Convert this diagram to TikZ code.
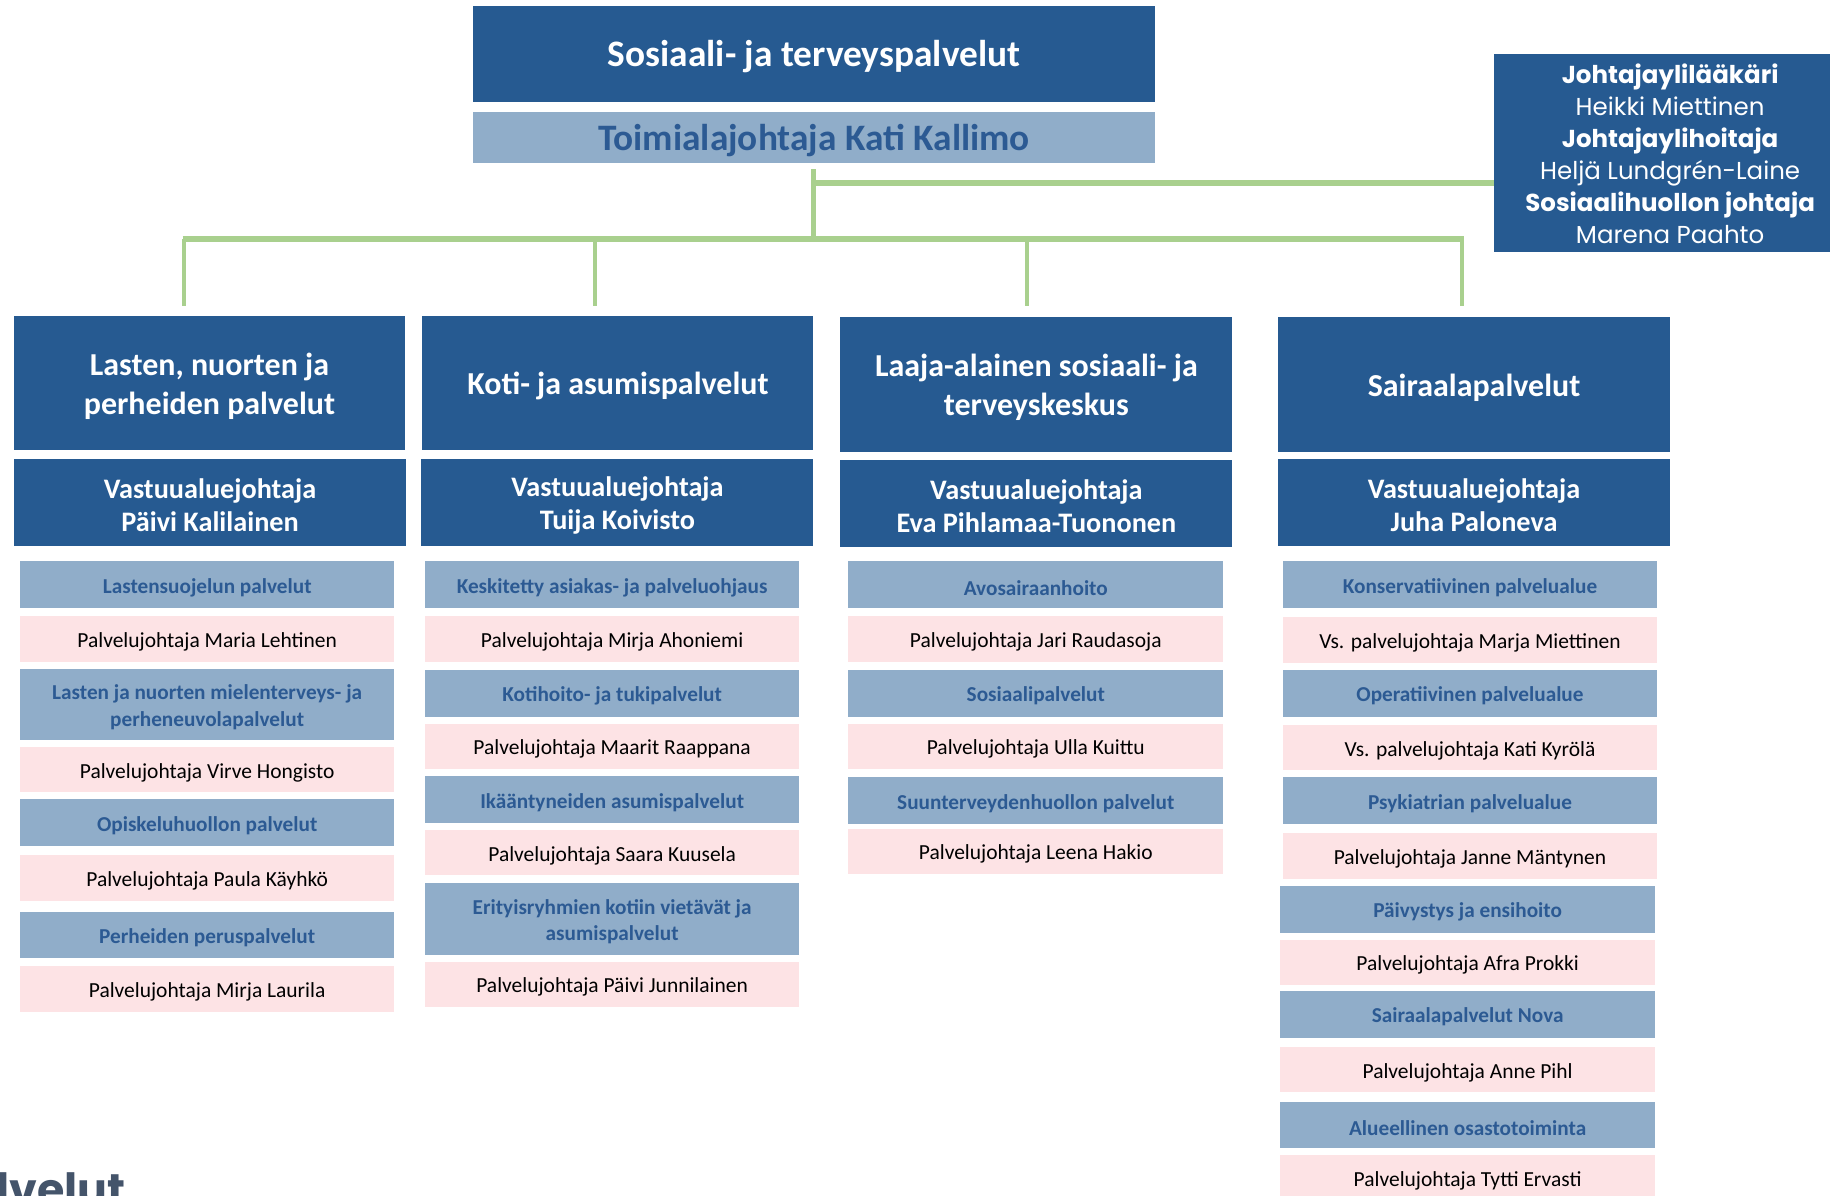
\documentclass[tikz,border=0pt]{standalone}
\usepackage{fontspec}
\setmainfont{Carlito}
\newfontfamily\popfont{Poppins}
\definecolor{dblue}{RGB}{38,90,145}
\definecolor{lblue}{RGB}{144,173,201}
\definecolor{lbtext}{RGB}{44,90,147}
\definecolor{pinkbg}{RGB}{253,227,229}
\definecolor{lgreen}{RGB}{169,208,142}
\definecolor{graytxt}{RGB}{68,84,106}
\newcommand\bx[7]{\node[#6, minimum width={(#4-#2)*1pt}, minimum height={(#5-#3)*1pt}] (#1) at ({(#2+#4)/2},{(#3+#5)/2}) {};
  \node[#6, fill=none] (#1t) at ([yshift=-2.5pt]#1.center) {#7};}
\tikzset{
  base/.style={inner sep=0pt, outer sep=0pt, align=center},
  titlebox/.style={base, fill=dblue, text=white, font=\fontsize{32}{38}\selectfont\bfseries},
  headbox/.style={base, fill=lblue, text=lbtext, font=\fontsize{32}{38}\selectfont\bfseries},
  colhead/.style={base, fill=dblue, text=white, font=\fontsize{27.4}{33}\selectfont\bfseries},
  vastbox/.style={base, fill=dblue, text=white, font=\fontsize{24.2}{28}\selectfont\bfseries},
  areabox/.style={base, fill=lblue, text=lbtext, font=\fontsize{18.2}{22.5}\selectfont\bfseries},
  namebox/.style={base, fill=pinkbg, text=black, font=\fontsize{18.4}{22}\selectfont},
  sidebox/.style={base, fill=dblue, text=white, font=\popfont\fontsize{21}{27.5}\selectfont},
  conn/.style={draw=lgreen, line width=3.5pt},
  connthick/.style={draw=lgreen, line width=5pt}
}
\begin{document}
\begin{tikzpicture}[x=1pt,y=-1pt]
\useasboundingbox (0,0) rectangle (1568,1024);
\clip (0,0) rectangle (1568,1024);
\fill[white] (0,0) rectangle (1568,1024);
% top
\bx{title}{405}{5}{990}{87}{titlebox}{Sosiaali- ja terveyspalvelut}
\bx{toim}{405}{96}{990}{140}{headbox}{Toimialajohtaja Kati Kallimo}
\node[sidebox, minimum width=288pt, minimum height=170pt] (side) at (1424,131) {};
\node[base, text=white, font=\popfont\fontsize{21}{27.5}\selectfont] (sidetxt) at ([xshift=7pt,yshift=-1pt]side.center) {\textbf{Johtajaylilääkäri}\\Heikki Miettinen\\\textbf{Johtajaylihoitaja}\\Heljä Lundgrén-Laine\\\textbf{Sosiaalihuollon johtaja}\\Marena Paahto};
% column headers
\bx{h1}{12}{271}{347}{386}{colhead}{Lasten, nuorten ja\\perheiden palvelut}
\bx{h2}{362}{271}{697}{386}{colhead}{Koti- ja asumispalvelut}
\bx{h3}{720}{272}{1056}{387}{colhead}{Laaja-alainen sosiaali- ja\\terveyskeskus}
\bx{h4}{1095}{272}{1431}{387}{colhead}{Sairaalapalvelut}
\bx{v1}{12}{393}{348}{468}{vastbox}{Vastuualuejohtaja\\Päivi Kalilainen}
\bx{v2}{361}{393}{697}{468}{vastbox}{Vastuualuejohtaja\\Tuija Koivisto}
\bx{v3}{720}{394}{1056}{469}{vastbox}{Vastuualuejohtaja\\Eva Pihlamaa-Tuononen}
\bx{v4}{1095}{393}{1431}{468}{vastbox}{Vastuualuejohtaja\\Juha Paloneva}
% column 1
\bx{a11}{17}{481}{338}{521}{areabox}{Lastensuojelun palvelut}
\bx{n11}{17}{528}{338}{567}{namebox}{Palvelujohtaja Maria Lehtinen}
\bx{a12}{17}{573}{338}{634}{areabox}{Lasten ja nuorten mielenterveys- ja\\perheneuvolapalvelut}
\bx{n12}{17}{640}{338}{679}{namebox}{Palvelujohtaja Virve Hongisto}
\bx{a13}{17}{685}{338}{725}{areabox}{Opiskeluhuollon palvelut}
\bx{n13}{17}{733}{338}{772}{namebox}{Palvelujohtaja Paula Käyhkö}
\bx{a14}{17}{781}{338}{821}{areabox}{Perheiden peruspalvelut}
\bx{n14}{17}{828}{338}{867}{namebox}{Palvelujohtaja Mirja Laurila}
% column 2
\bx{a21}{364}{481}{685}{521}{areabox}{Keskitetty asiakas- ja palveluohjaus}
\bx{n21}{364}{528}{685}{567}{namebox}{Palvelujohtaja Mirja Ahoniemi}
\bx{a22}{364}{574}{685}{614}{areabox}{Kotihoito- ja tukipalvelut}
\bx{n22}{364}{620}{685}{659}{namebox}{Palvelujohtaja Maarit Raappana}
\bx{a23}{364}{665}{685}{705}{areabox}{Ikääntyneiden asumispalvelut}
\bx{n23}{364}{711}{685}{750}{namebox}{Palvelujohtaja Saara Kuusela}
\bx{a24}{364}{757}{685}{818}{areabox}{Erityisryhmien kotiin vietävät ja\\asumispalvelut}
\bx{n24}{364}{824}{685}{863}{namebox}{Palvelujohtaja Päivi Junnilainen}
% column 3
\bx{a31}{727}{481}{1048}{521}{areabox}{Avosairaanhoito}
\bx{n31}{727}{528}{1048}{567}{namebox}{Palvelujohtaja Jari Raudasoja}
\bx{a32}{727}{574}{1048}{614}{areabox}{Sosiaalipalvelut}
\bx{n32}{727}{620}{1048}{659}{namebox}{Palvelujohtaja Ulla Kuittu}
\bx{a33}{727}{666}{1048}{706}{areabox}{Suunterveydenhuollon palvelut}
\bx{n33}{727}{710}{1048}{749}{namebox}{Palvelujohtaja Leena Hakio}
% column 4
\bx{a41}{1099}{481}{1420}{521}{areabox}{Konservatiivinen palvelualue}
\bx{n41}{1099}{529}{1420}{568}{namebox}{Vs. palvelujohtaja Marja Miettinen}
\bx{a42}{1099}{574}{1420}{614}{areabox}{Operatiivinen palvelualue}
\bx{n42}{1099}{621}{1420}{660}{namebox}{Vs. palvelujohtaja Kati Kyrölä}
\bx{a43}{1099}{666}{1420}{706}{areabox}{Psykiatrian palvelualue}
\bx{n43}{1099}{714}{1420}{753}{namebox}{Palvelujohtaja Janne Mäntynen}
\bx{a44}{1097}{759}{1418}{799}{areabox}{Päivystys ja ensihoito}
\bx{n44}{1097}{805}{1418}{844}{namebox}{Palvelujohtaja Afra Prokki}
\bx{a45}{1097}{849}{1418}{889}{areabox}{Sairaalapalvelut Nova}
\bx{n45}{1097}{897}{1418}{936}{namebox}{Palvelujohtaja Anne Pihl}
\bx{a46}{1097}{944}{1418}{984}{areabox}{Alueellinen osastotoiminta}
\bx{n46}{1097}{990}{1418}{1029}{namebox}{Palvelujohtaja Tytti Ervasti}
% connectors
\coordinate (top) at (697,145);
\coordinate (mid) at (697,157);
\coordinate (bus) at (697,205);
\coordinate (b1) at (158,205);
\coordinate (b2) at (510,205);
\coordinate (b3) at (880,205);
\coordinate (b4) at (1253,205);
\coordinate (d1) at (158,262);
\coordinate (d2) at (510,262);
\coordinate (d3) at (880,262);
\coordinate (d4) at (1253,262);
\draw[conn] (top) -- (bus);
\draw[connthick] (mid) -- (side.west |- mid);
\draw[connthick] ([xshift=-1.5pt]b1) -- ([xshift=1.5pt]b4);
\draw[conn] (b1) -- (d1);
\draw[conn] (b2) -- (d2);
\draw[conn] (b3) -- (d3);
\draw[conn] (b4) -- (d4);
% cut-off text
\node[anchor=base west, inner sep=0pt, text=graytxt, font=\popfont\fontsize{38}{40}\selectfont\bfseries] (cut) at (-3,1033) {lvelut};
\end{tikzpicture}
\end{document}
